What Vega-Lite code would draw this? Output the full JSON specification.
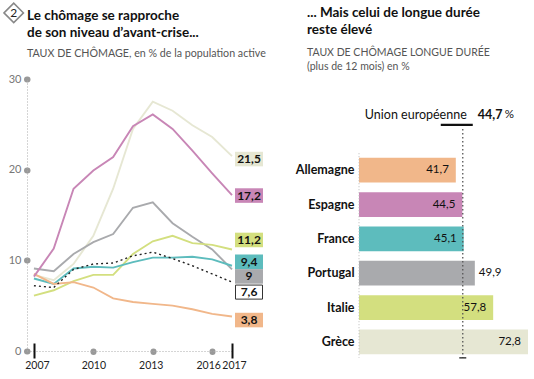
{
  "$schema": "https://vega.github.io/schema/vega-lite/v6.json",
  "padding": {"left": 0, "top": 0, "right": 0, "bottom": 0},
  "config": {
    "view": {"stroke": null},
    "font": "Lato",
    "locale": {"number": {"decimal": ",", "thousands": " ", "grouping": [3], "currency": ["", " €"]}}
  },
  "datasets": {
    "rates": [
      {"country": "Grèce", "year": 2007, "rate": 8.4}, {"country": "Grèce", "year": 2008, "rate": 7.8}, {"country": "Grèce", "year": 2009, "rate": 9.6}, {"country": "Grèce", "year": 2010, "rate": 12.7}, {"country": "Grèce", "year": 2011, "rate": 17.9}, {"country": "Grèce", "year": 2012, "rate": 24.5}, {"country": "Grèce", "year": 2013, "rate": 27.5}, {"country": "Grèce", "year": 2014, "rate": 26.5}, {"country": "Grèce", "year": 2015, "rate": 24.9}, {"country": "Grèce", "year": 2016, "rate": 23.6}, {"country": "Grèce", "year": 2017, "rate": 21.5},
      {"country": "Portugal", "year": 2007, "rate": 9.1}, {"country": "Portugal", "year": 2008, "rate": 8.8}, {"country": "Portugal", "year": 2009, "rate": 10.7}, {"country": "Portugal", "year": 2010, "rate": 12.0}, {"country": "Portugal", "year": 2011, "rate": 12.9}, {"country": "Portugal", "year": 2012, "rate": 15.8}, {"country": "Portugal", "year": 2013, "rate": 16.4}, {"country": "Portugal", "year": 2014, "rate": 14.1}, {"country": "Portugal", "year": 2015, "rate": 12.6}, {"country": "Portugal", "year": 2016, "rate": 11.2}, {"country": "Portugal", "year": 2017, "rate": 9.0},
      {"country": "Italie", "year": 2007, "rate": 6.1}, {"country": "Italie", "year": 2008, "rate": 6.7}, {"country": "Italie", "year": 2009, "rate": 7.7}, {"country": "Italie", "year": 2010, "rate": 8.4}, {"country": "Italie", "year": 2011, "rate": 8.4}, {"country": "Italie", "year": 2012, "rate": 10.7}, {"country": "Italie", "year": 2013, "rate": 12.1}, {"country": "Italie", "year": 2014, "rate": 12.7}, {"country": "Italie", "year": 2015, "rate": 11.9}, {"country": "Italie", "year": 2016, "rate": 11.7}, {"country": "Italie", "year": 2017, "rate": 11.2},
      {"country": "France", "year": 2007, "rate": 8.0}, {"country": "France", "year": 2008, "rate": 7.4}, {"country": "France", "year": 2009, "rate": 9.1}, {"country": "France", "year": 2010, "rate": 9.3}, {"country": "France", "year": 2011, "rate": 9.2}, {"country": "France", "year": 2012, "rate": 9.8}, {"country": "France", "year": 2013, "rate": 10.3}, {"country": "France", "year": 2014, "rate": 10.3}, {"country": "France", "year": 2015, "rate": 10.4}, {"country": "France", "year": 2016, "rate": 10.1}, {"country": "France", "year": 2017, "rate": 9.4},
      {"country": "Allemagne", "year": 2007, "rate": 8.5}, {"country": "Allemagne", "year": 2008, "rate": 7.4}, {"country": "Allemagne", "year": 2009, "rate": 7.6}, {"country": "Allemagne", "year": 2010, "rate": 7.0}, {"country": "Allemagne", "year": 2011, "rate": 5.8}, {"country": "Allemagne", "year": 2012, "rate": 5.4}, {"country": "Allemagne", "year": 2013, "rate": 5.2}, {"country": "Allemagne", "year": 2014, "rate": 5.0}, {"country": "Allemagne", "year": 2015, "rate": 4.6}, {"country": "Allemagne", "year": 2016, "rate": 4.1}, {"country": "Allemagne", "year": 2017, "rate": 3.8},
      {"country": "Espagne", "year": 2007, "rate": 8.2}, {"country": "Espagne", "year": 2008, "rate": 11.3}, {"country": "Espagne", "year": 2009, "rate": 17.9}, {"country": "Espagne", "year": 2010, "rate": 19.9}, {"country": "Espagne", "year": 2011, "rate": 21.4}, {"country": "Espagne", "year": 2012, "rate": 24.8}, {"country": "Espagne", "year": 2013, "rate": 26.1}, {"country": "Espagne", "year": 2014, "rate": 24.5}, {"country": "Espagne", "year": 2015, "rate": 22.1}, {"country": "Espagne", "year": 2016, "rate": 19.6}, {"country": "Espagne", "year": 2017, "rate": 17.2},
      {"country": "Union européenne", "year": 2007, "rate": 7.2}, {"country": "Union européenne", "year": 2008, "rate": 7.0}, {"country": "Union européenne", "year": 2009, "rate": 9.0}, {"country": "Union européenne", "year": 2010, "rate": 9.6}, {"country": "Union européenne", "year": 2011, "rate": 9.7}, {"country": "Union européenne", "year": 2012, "rate": 10.5}, {"country": "Union européenne", "year": 2013, "rate": 10.9}, {"country": "Union européenne", "year": 2014, "rate": 10.2}, {"country": "Union européenne", "year": 2015, "rate": 9.4}, {"country": "Union européenne", "year": 2016, "rate": 8.5}, {"country": "Union européenne", "year": 2017, "rate": 7.6}
    ],
    "longterm": [
      {"country": "Allemagne", "share": 41.7},
      {"country": "Espagne", "share": 44.5},
      {"country": "France", "share": 45.1},
      {"country": "Portugal", "share": 49.9},
      {"country": "Italie", "share": 57.8},
      {"country": "Grèce", "share": 72.8}
    ],
    "eu": [{"country": "Union européenne", "share": 44.7}]
  },
  "spacing": 29,
  "hconcat": [
    {
      "width": 205,
      "height": 272,
      "title": {
        "text": ["Le chômage se rapproche", "de son niveau d’avant-crise..."],
        "subtitle": "TAUX DE CHÔMAGE, en % de la population active",
        "anchor": "start", "frame": "group", "offset": -59,
        "font": "Lato", "fontSize": 13.5, "fontWeight": "bold", "color": "#111", "lineHeight": 17,
        "subtitleFont": "Lato", "subtitleFontSize": 10.7, "subtitleColor": "#555", "subtitlePadding": 10
      },
      "resolve": {"axis": {"x": "independent"}},
      "layer": [
        {
          "data": {"name": "rates"},
          "transform": [{"filter": "datum.country !== 'Union européenne'"}],
          "mark": {"type": "line", "strokeWidth": 1.9, "clip": false},
          "encoding": {
            "x": {"field": "year", "type": "quantitative",
              "scale": {"domain": [2006.65, 2017], "nice": false, "zero": false},
              "axis": {"values": [2007, 2010, 2013, 2016, 2017], "format": "d", "title": null, "orient": "bottom",
                "domainDash": [1, 2], "domainColor": "#aaa", "tickColor": "#999", "tickWidth": 6, "tickCap": "round", "tickSize": 0.5,
                "tickOpacity": {"condition": {"test": "datum.value === 2007 || datum.value === 2017", "value": 0}, "value": 1},
                "labelOffset": {"condition": [{"test": "datum.value === 2016", "value": -4}, {"test": "datum.value === 2017", "value": 2}, {"test": "datum.value === 2007", "value": 3}, {"test": "datum.value === 2013", "value": -2}], "value": 0},
                "labelColor": "#222", "labelFontSize": 10.5, "labelFont": "Lato", "labelPadding": 9, "labelOverlap": false, "labelFlush": false, "grid": false}},
            "y": {"field": "rate", "type": "quantitative",
              "scale": {"domain": [0, 30], "nice": false},
              "axis": {"values": [0, 10, 20, 30], "title": null, "grid": false,
                "domainDash": [1, 2], "domainColor": "#aaa", "tickColor": "#999", "tickWidth": 6, "tickCap": "round", "tickSize": 0.5,
                "labelColor": "#777", "labelFontSize": 11, "labelFont": "Lato", "labelPadding": 5.5}},
            "color": {"field": "country", "type": "nominal", "legend": null,
              "scale": {"domain": ["Grèce", "Espagne", "Portugal", "Italie", "France", "Allemagne"],
                "range": ["#e6e7d3", "#c886b6", "#a9aaad", "#d3df7f", "#5dbcbd", "#f1b78a"]}},
            "order": {"field": "country"}
          }
        },
        {
          "data": {"name": "rates"},
          "transform": [{"filter": "datum.country === 'Union européenne'"}],
          "mark": {"type": "line", "strokeWidth": 1.4, "strokeDash": [2, 3], "color": "#222", "clip": false},
          "encoding": {
            "x": {"field": "year", "type": "quantitative", "scale": {"domain": [2006.65, 2017], "nice": false, "zero": false},
              "axis": {"values": [2007, 2017], "orient": "bottom", "offset": -8, "domain": false, "labels": false, "grid": false, "title": null,
                "ticks": true, "tickSize": 15, "tickWidth": 2, "tickColor": "#111", "tickCap": "butt"}},
            "y": {"field": "rate", "type": "quantitative", "scale": {"domain": [0, 30], "nice": false}}
          }
        },
        {
          "data": {"name": "rates"},
          "transform": [{"filter": "datum.year === 2017 && datum.country !== 'Union européenne'"}],
          "mark": {"type": "point", "shape": "M-1,-0.52L1,-0.52L1,0.52L-1,0.52Z", "size": 784, "filled": true, "opacity": 1, "strokeWidth": 0, "xOffset": 17,
            "yOffset": {"expr": "datum.country === 'Italie' ? -9.5 : datum.country === 'France' ? -4 : datum.country === 'Portugal' ? 7 : datum.country === 'Grèce' ? 3 : datum.country === 'Allemagne' ? 3.5 : 0.5"}, "clip": false},
          "encoding": {
            "x": {"field": "year", "type": "quantitative", "scale": {"domain": [2006.65, 2017], "nice": false, "zero": false}, "axis": null},
            "y": {"field": "rate", "type": "quantitative", "scale": {"domain": [0, 30], "nice": false}},
            "color": {"field": "country", "type": "nominal", "legend": null}
          }
        },
        {
          "data": {"name": "rates"},
          "transform": [{"filter": "datum.year === 2017 && datum.country === 'Union européenne'"}],
          "mark": {"type": "point", "shape": "M-1,-0.52L1,-0.52L1,0.52L-1,0.52Z", "size": 729, "filled": true, "fill": "#fff", "opacity": 1, "stroke": "#333", "strokeWidth": 1, "xOffset": 17, "yOffset": 10, "clip": false},
          "encoding": {
            "x": {"field": "year", "type": "quantitative", "scale": {"domain": [2006.65, 2017], "nice": false, "zero": false}, "axis": null},
            "y": {"field": "rate", "type": "quantitative", "scale": {"domain": [0, 30], "nice": false}}
          }
        },
        {
          "data": {"name": "rates"},
          "transform": [{"filter": "datum.year === 2017"}],
          "mark": {"type": "text", "font": "Lato", "fontSize": 12, "fontWeight": "bold", "color": "#111", "align": "center", "baseline": "middle", "xOffset": 17,
            "yOffset": {"expr": "datum.country === 'Italie' ? -9.5 : datum.country === 'France' ? -4 : datum.country === 'Portugal' ? 7 : datum.country === 'Union européenne' ? 10 : datum.country === 'Grèce' ? 3 : datum.country === 'Allemagne' ? 3.5 : 0.5"}, "clip": false},
          "encoding": {
            "x": {"field": "year", "type": "quantitative", "scale": {"domain": [2006.65, 2017], "nice": false, "zero": false}, "axis": null},
            "y": {"field": "rate", "type": "quantitative", "scale": {"domain": [0, 30], "nice": false}},
            "text": {"field": "rate", "type": "quantitative", "format": ".3~r"}
          }
        },
        {
          "data": {"values": [{"icon": "2"}]},
          "mark": {"type": "point", "shape": "diamond", "size": 380, "filled": true, "fill": "#fff", "opacity": 1, "stroke": "#888", "strokeWidth": 1.5, "clip": false},
          "encoding": {
            "x": {"datum": 2005.98, "type": "quantitative", "scale": {"domain": [2006.65, 2017], "nice": false, "zero": false}, "axis": null},
            "y": {"datum": 37.29, "type": "quantitative", "scale": {"domain": [0, 30], "nice": false}}
          }
        },
        {
          "data": {"values": [{"icon": "2"}]},
          "mark": {"type": "text", "font": "Lato", "fontSize": 12, "color": "#222", "align": "center", "baseline": "middle", "clip": false},
          "encoding": {
            "x": {"datum": 2005.98, "type": "quantitative", "scale": {"domain": [2006.65, 2017], "nice": false, "zero": false}, "axis": null},
            "y": {"datum": 37.29, "type": "quantitative", "scale": {"domain": [0, 30], "nice": false}},
            "text": {"field": "icon"}
          }
        }
      ]
    },
    {
      "width": 169,
      "height": 280,
      "title": {
        "text": ["... Mais celui de longue durée", "reste élevé"],
        "subtitle": ["TAUX DE CHÔMAGE LONGUE DURÉE", "(plus de 12 mois) en %"],
        "anchor": "start", "frame": "group", "offset": 7, "dx": -52,
        "font": "Lato", "fontSize": 13.5, "fontWeight": "bold", "color": "#111", "lineHeight": 17,
        "subtitleFont": "Lato", "subtitleFontSize": 10.5, "subtitleColor": "#555", "subtitlePadding": 12, "subtitleLineHeight": 13.5
      },
      "layer": [
        {
          "data": {"name": "longterm"},
          "mark": {"type": "bar"},
          "encoding": {
            "y": {"field": "country", "type": "nominal",
              "scale": {"domain": ["Union européenne", "Allemagne", "Espagne", "France", "Portugal", "Italie", "Grèce"], "paddingInner": 0.28, "paddingOuter": 0.718, "align": 0.903},
              "axis": {"title": null, "ticks": false, "domain": false,
                "labelExpr": "datum.value === 'Union européenne' ? '' : datum.value",
                "labelFont": "Lato", "labelFontWeight": "bold", "labelFontSize": 12.5, "labelColor": "#111", "labelPadding": 5}},
            "x": {"field": "share", "type": "quantitative", "scale": {"domain": [0, 72.8], "nice": false}, "axis": null},
            "color": {"field": "country", "type": "nominal", "legend": null,
              "scale": {"domain": ["Grèce", "Espagne", "Portugal", "Italie", "France", "Allemagne"],
                "range": ["#e6e7d3", "#c886b6", "#a9aaad", "#d3df7f", "#5dbcbd", "#f1b78a"]}}
          }
        },
        {
          "data": {"name": "longterm"},
          "transform": [{"filter": "datum.country !== 'Portugal'"}],
          "mark": {"type": "text", "font": "Lato", "fontSize": 11.5, "color": "#111", "align": "right", "baseline": "middle", "dx": -7},
          "encoding": {
            "y": {"field": "country", "type": "nominal"},
            "x": {"field": "share", "type": "quantitative"},
            "text": {"field": "share", "type": "quantitative", "format": ".1f"}
          }
        },
        {
          "data": {"name": "longterm"},
          "transform": [{"filter": "datum.country === 'Portugal'"}],
          "mark": {"type": "text", "font": "Lato", "fontSize": 11.5, "color": "#111", "align": "left", "baseline": "middle", "dx": 4},
          "encoding": {
            "y": {"field": "country", "type": "nominal"},
            "x": {"field": "share", "type": "quantitative"},
            "text": {"field": "share", "type": "quantitative", "format": ".1f"}
          }
        },
        {
          "data": {"values": [{"base": 0}]},
          "mark": {"type": "rule", "color": "#bbb", "strokeWidth": 1, "strokeDash": [1, 2], "yOffset": -17, "y2Offset": 16},
          "encoding": {
            "x": {"field": "base", "type": "quantitative"},
            "y": {"datum": "Allemagne", "type": "nominal"},
            "y2": {"datum": "Grèce"}
          }
        },
        {
          "data": {"name": "eu"},
          "mark": {"type": "rule", "color": "#555", "strokeWidth": 1.3, "strokeDash": [1.5, 2.5], "yOffset": -7, "y2Offset": 16},
          "encoding": {
            "x": {"field": "share", "type": "quantitative"},
            "y": {"field": "country", "type": "nominal"},
            "y2": {"datum": "Grèce"}
          }
        },
        {
          "data": {"name": "eu"},
          "mark": {"type": "point", "shape": "M-1,-0.2L1,-0.2L1,0.2L-1,0.2Z", "size": 49, "filled": true, "fill": "#333", "opacity": 1, "strokeWidth": 0, "yOffset": 16},
          "encoding": {
            "x": {"field": "share", "type": "quantitative"},
            "y": {"datum": "Grèce", "type": "nominal"}
          }
        },
        {
          "data": {"name": "eu"},
          "mark": {"type": "point", "shape": "M-1,-0.07L1,-0.07L1,0.07L-1,0.07Z", "size": 1024, "filled": true, "fill": "#111", "opacity": 1, "strokeWidth": 0, "xOffset": -6, "yOffset": -11},
          "encoding": {
            "x": {"field": "share", "type": "quantitative"},
            "y": {"field": "country", "type": "nominal"}
          }
        },
        {
          "data": {"name": "eu"},
          "mark": {"type": "text", "font": "Lato", "fontSize": 12.5, "color": "#111", "align": "right", "baseline": "middle", "dx": 4, "dy": -21},
          "encoding": {
            "x": {"field": "share", "type": "quantitative"},
            "y": {"field": "country", "type": "nominal"},
            "text": {"field": "country"}
          }
        },
        {
          "data": {"name": "eu"},
          "mark": {"type": "text", "font": "Lato", "fontSize": 12.5, "fontWeight": "bold", "color": "#111", "align": "left", "baseline": "middle", "dx": 15, "dy": -21},
          "encoding": {
            "x": {"field": "share", "type": "quantitative"},
            "y": {"field": "country", "type": "nominal"},
            "text": {"field": "share", "type": "quantitative", "format": ".1f"}
          }
        },
        {
          "data": {"name": "eu"},
          "mark": {"type": "text", "font": "Lato", "fontSize": 11.5, "color": "#111", "align": "left", "baseline": "middle", "dx": 42, "dy": -21, "text": "%"},
          "encoding": {
            "x": {"field": "share", "type": "quantitative"},
            "y": {"field": "country", "type": "nominal"}
          }
        }
      ]
    }
  ]
}
